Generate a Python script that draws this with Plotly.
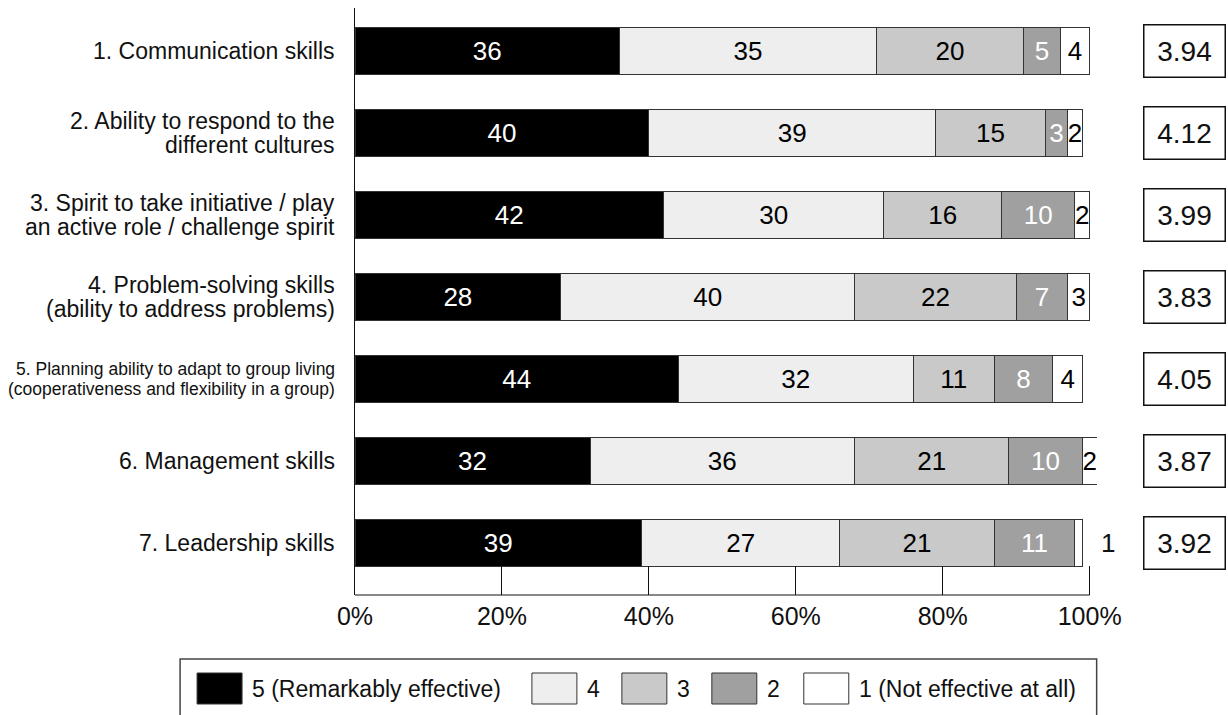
import plotly.graph_objects as go

# Survey items (top to bottom) and their label lines
items = [
    ["1. Communication skills"],
    ["2. Ability to respond to the", "different cultures"],
    ["3. Spirit to take initiative / play", "an active role / challenge spirit"],
    ["4. Problem-solving skills", "(ability to address problems)"],
    ["5. Planning ability to adapt to group living", "(cooperativeness and flexibility in a group)"],
    ["6. Management skills"],
    ["7. Leadership skills"],
]
categories = [" ".join(lines) for lines in items]

# Share of responses (%) for each rating, per item
rating5 = [36, 40, 42, 28, 44, 32, 39]
rating4 = [35, 39, 30, 40, 32, 36, 27]
rating3 = [20, 15, 16, 22, 11, 21, 21]
rating2 = [5, 3, 10, 7, 8, 10, 11]
rating1 = [4, 2, 2, 3, 4, 2, 1]

# Mean rating per item
means = [3.94, 4.12, 3.99, 3.83, 4.05, 3.87, 3.92]

legend_labels = ["5 (Remarkably effective)", "4", "3", "2", "1 (Not effective at all)"]
x_ticks = [0, 20, 40, 60, 80, 100]
x_tick_text = [f"{v}%" for v in x_ticks]

series = [rating5, rating4, rating3, rating2, rating1]
fills = ["#000000", "#eeeeee", "#c8c9c8", "#9fa09f", "#ffffff"]
text_colors = ["#ffffff", "#000000", "#000000", "#ffffff", "#000000"]

FONT = "Liberation Sans, Arial, Helvetica, sans-serif"

# rounded shares may add up to slightly more than 100
x_max = max(100, max(sum(v) for v in zip(*series)))

W, H = 1228, 715
ML, MT, MB = 355, 8, 120
UNIT = 7.35                     # pixels per percentage point
PW = UNIT * x_max
MR = W - ML - PW
PH = H - MT - MB


def px_x(px):
    return (px - ML) / PW


def px_y(py):
    return (H - MB - py) / PH


fig = go.Figure()

for vals, name, fill, tcol in zip(series, legend_labels, fills, text_colors):
    texts = [str(v) for v in vals]
    if fill == "#ffffff":
        # the thinnest last segment is labelled outside the bar
        texts = [t if v >= 2 else "" for t, v in zip(texts, vals)]
    fig.add_trace(go.Bar(
        y=categories, x=vals, orientation="h", name=name,
        marker=dict(color=fill, line=dict(color="#333333", width=1)),
        text=texts, textposition="inside", insidetextanchor="middle",
        textangle=0, constraintext="none",
        textfont=dict(family=FONT, size=26, color=tcol),
        showlegend=False, hoverinfo="skip",
    ))

annotations = []

# Item labels at the left of the axis
for cat, lines in zip(categories, items):
    long_label = len(lines[0]) > 40
    gap = 20 if long_label else 24
    n = len(lines)
    for i, line in enumerate(lines):
        annotations.append(dict(
            x=0, xref="paper", y=cat, yref="y",
            xanchor="right", yanchor="middle", xshift=-18,
            yshift=((n - 1) / 2 - i) * gap,
            text=line, showarrow=False, align="right",
            font=dict(family=FONT, size=17.5 if long_label else 23,
                      color="#111111"),
        ))

# Outside label for tiny last segments
for cat, vals in zip(categories, zip(*series)):
    if vals[-1] < 2:
        annotations.append(dict(
            x=sum(vals), xref="x", y=cat, yref="y",
            xanchor="left", yanchor="middle", xshift=17,
            text=str(vals[-1]), showarrow=False,
            font=dict(family=FONT, size=26, color="#111111"),
        ))

# Mean rating boxes
for cat, m in zip(categories, means):
    annotations.append(dict(
        x=px_x(1184.5), xref="paper", y=cat, yref="y",
        xanchor="center", yanchor="middle",
        text=f"{m:.2f}", showarrow=False,
        width=76, height=47, borderpad=2,
        bordercolor="#111111", borderwidth=1.5, bgcolor="#ffffff",
        font=dict(family=FONT, size=28, color="#111111"),
    ))

shapes = [
    # x axis baseline from 0% to 100%
    dict(type="line", xref="x", yref="paper", x0=0, x1=100, y0=0, y1=0,
         line=dict(color="#111111", width=1)),
    # legend frame
    dict(type="rect", xref="paper", yref="paper",
         x0=px_x(180), x1=px_x(1097), y0=px_y(722), y1=px_y(659),
         line=dict(color="#444444", width=1.5), fillcolor="rgba(0,0,0,0)"),
]
swatch_left = [197, 532, 622, 712, 804]
for left, label, fill in zip(swatch_left, legend_labels, fills):
    shapes.append(dict(
        type="rect", xref="paper", yref="paper",
        x0=px_x(left), x1=px_x(left + 45), y0=px_y(704), y1=px_y(673),
        line=dict(color="#333333", width=1), fillcolor=fill,
    ))
    annotations.append(dict(
        x=px_x(left + 53), xref="paper", y=px_y(688.5), yref="paper",
        xanchor="left", yanchor="middle", text=label, showarrow=False,
        font=dict(family=FONT, size=23, color="#111111"),
    ))

fig.update_layout(
    width=W, height=H,
    margin=dict(l=ML, r=MR, t=MT, b=MB),
    barmode="stack", bargap=0.427,
    plot_bgcolor="#ffffff", paper_bgcolor="#ffffff",
    annotations=annotations, shapes=shapes,
    xaxis=dict(
        range=[0, x_max], tickmode="array",
        tickvals=x_ticks, ticktext=x_tick_text,
        showgrid=False, zeroline=False, showline=False,
        ticks="inside", ticklen=29, tickwidth=1, tickcolor="#111111",
        tickfont=dict(family=FONT, size=25, color="#111111"),
        ticklabelstandoff=4,
    ),
    yaxis=dict(
        categoryorder="array", categoryarray=categories,
        range=[6.634, -0.524],
        showgrid=False, zeroline=False, showticklabels=False,
        showline=True, linecolor="#111111", linewidth=1,
    ),
)

fig.write_html("out.html")
